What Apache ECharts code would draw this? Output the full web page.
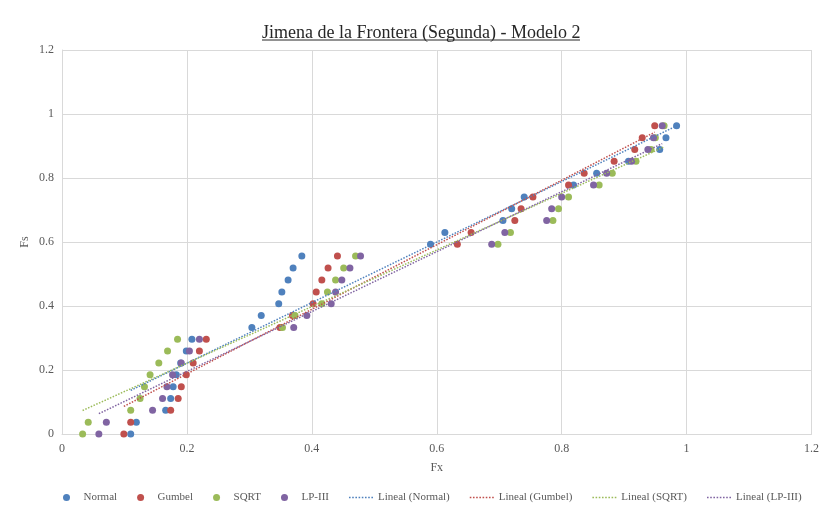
<!DOCTYPE html>
<html>
<head>
<meta charset="utf-8">
<script src="https://cdn.jsdelivr.net/npm/echarts@6/dist/echarts.min.js"></script>
<style>
  html, body { margin: 0; padding: 0; background: #fff; }
  #chart { width: 822px; height: 508px; }
</style>
</head>
<body>
<div id="chart"></div>
<script>
// Fs (probabilidad empirica), comun a las cuatro distribuciones
var fs = [0, 0.037, 0.074, 0.111, 0.148, 0.185, 0.222, 0.259, 0.296, 0.333, 0.370, 0.407, 0.444, 0.481,
  0.519, 0.556, 0.593, 0.630, 0.667, 0.704, 0.741, 0.778, 0.815, 0.852, 0.889, 0.926, 0.963];

// Fx de cada ajuste
var fxNormal = [0.110, 0.119, 0.166, 0.174, 0.178, 0.183, 0.190, 0.199, 0.208, 0.304, 0.319, 0.347, 0.352, 0.362,
  0.370, 0.384, 0.590, 0.613, 0.706, 0.720, 0.740, 0.819, 0.856, 0.907, 0.957, 0.967, 0.984];
var fxGumbel = [0.099, 0.110, 0.174, 0.186, 0.191, 0.199, 0.210, 0.220, 0.231, 0.349, 0.369, 0.402, 0.407, 0.416,
  0.426, 0.441, 0.633, 0.655, 0.725, 0.735, 0.754, 0.811, 0.836, 0.884, 0.917, 0.929, 0.949];
var fxSqrt = [0.033, 0.042, 0.110, 0.125, 0.132, 0.141, 0.155, 0.169, 0.185, 0.353, 0.373, 0.416, 0.425, 0.438,
  0.451, 0.470, 0.698, 0.718, 0.786, 0.795, 0.811, 0.860, 0.881, 0.919, 0.943, 0.950, 0.964];
var fxLp3 = [0.059, 0.071, 0.145, 0.161, 0.168, 0.177, 0.191, 0.204, 0.220, 0.371, 0.392, 0.431, 0.438, 0.448,
  0.461, 0.478, 0.688, 0.709, 0.776, 0.784, 0.800, 0.851, 0.872, 0.912, 0.938, 0.947, 0.961];

var names = ["Normal", "Gumbel", "SQRT", "LP-III"];
var colors = ["#4f81bd", "#c0504d", "#9bbb59", "#8064a2"];
var fxAll = [fxNormal, fxGumbel, fxSqrt, fxLp3];

var font = "Liberation Serif";
// icono punteado para la leyenda de las rectas
var dotIcon = "path://M0 0h2v2H0zM4 0h2v2H4zM8 0h2v2H8zM12 0h2v2h-2zM16 0h2v2h-2zM20 0h2v2h-2zM24 0h2v2h-2zM28 0h2v2h-2z";

// pares [x, y] para el scatter
function pairs(xs) {
  var out = [];
  for (var i = 0; i < xs.length; i++) out.push([xs[i], fs[i]]);
  return out;
}

// recta de minimos cuadrados (lineal de Excel), del menor al mayor x
function trend(xs) {
  var n = xs.length, sx = 0, sy = 0, sxx = 0, sxy = 0;
  for (var i = 0; i < n; i++) {
    sx += xs[i]; sy += fs[i]; sxx += xs[i] * xs[i]; sxy += xs[i] * fs[i];
  }
  var b = (n * sxy - sx * sy) / (n * sxx - sx * sx);
  var a = (sy - b * sx) / n;
  var x0 = Math.min.apply(null, xs), x1 = Math.max.apply(null, xs);
  return [[x0, a + b * x0], [x1, a + b * x1]];
}

var series = [];
var legendData = [];
names.forEach(function (nm, k) {
  series.push({
    name: nm,
    type: "scatter",
    symbolSize: 7,
    itemStyle: { color: colors[k], opacity: 1 },
    data: pairs(fxAll[k]),
    z: 2,
  });
  legendData.push({ name: nm, icon: "circle" });
});
names.forEach(function (nm, k) {
  series.push({
    name: "Lineal (" + nm + ")",
    type: "line",
    symbol: "none",
    lineStyle: { color: colors[k], width: 1.5, type: "dotted" },
    itemStyle: { color: colors[k] },
    data: trend(fxAll[k]),
    z: 3,
  });
  legendData.push({ name: "Lineal (" + nm + ")", icon: dotIcon });
});

var axisText = { color: "#595959", fontFamily: font, fontSize: 12 };

var option = {
  animation: false,
  backgroundColor: "#fff",
  title: {
    text: "Jimena de la Frontera (Segunda) - Modelo 2",
    left: 257,
    top: 19,
    textStyle: { fontFamily: font, fontSize: 18, fontWeight: "normal", color: "#262626" },
  },
  // subrayado del titulo
  graphic: [{
    type: "line",
    shape: { x1: 262, y1: 40, x2: 580, y2: 40 },
    style: { stroke: "#262626", lineWidth: 1 },
  }],
  legend: {
    data: legendData,
    left: 58,
    top: 487,
    itemWidth: 24,
    itemHeight: 7,
    itemGap: 20,
    textStyle: { fontFamily: font, fontSize: 11, color: "#595959" },
  },
  grid: { left: 62, right: 7, top: 50, bottom: 74 },
  xAxis: {
    type: "value",
    min: 0,
    max: 1.2,
    interval: 0.2,
    name: "Fx",
    nameLocation: "middle",
    nameGap: 28,
    nameTextStyle: axisText,
    axisLabel: Object.assign({ margin: 9 }, axisText),
    axisLine: { show: true, lineStyle: { color: "#d9d9d9" } },
    axisTick: { show: false },
    splitLine: { show: true, lineStyle: { color: "#d9d9d9" } },
  },
  yAxis: {
    type: "value",
    min: 0,
    max: 1.2,
    interval: 0.2,
    name: "Fs",
    nameLocation: "middle",
    nameGap: 31,
    nameMoveOverlap: false,
    nameTextStyle: axisText,
    axisLabel: Object.assign({ margin: 8 }, axisText),
    axisLine: { show: true, lineStyle: { color: "#d9d9d9" } },
    axisTick: { show: false },
    splitLine: { show: true, lineStyle: { color: "#d9d9d9" } },
  },
  series: series,
};

var chart = echarts.init(document.getElementById("chart"));
chart.setOption(option);
</script>
</body>
</html>
